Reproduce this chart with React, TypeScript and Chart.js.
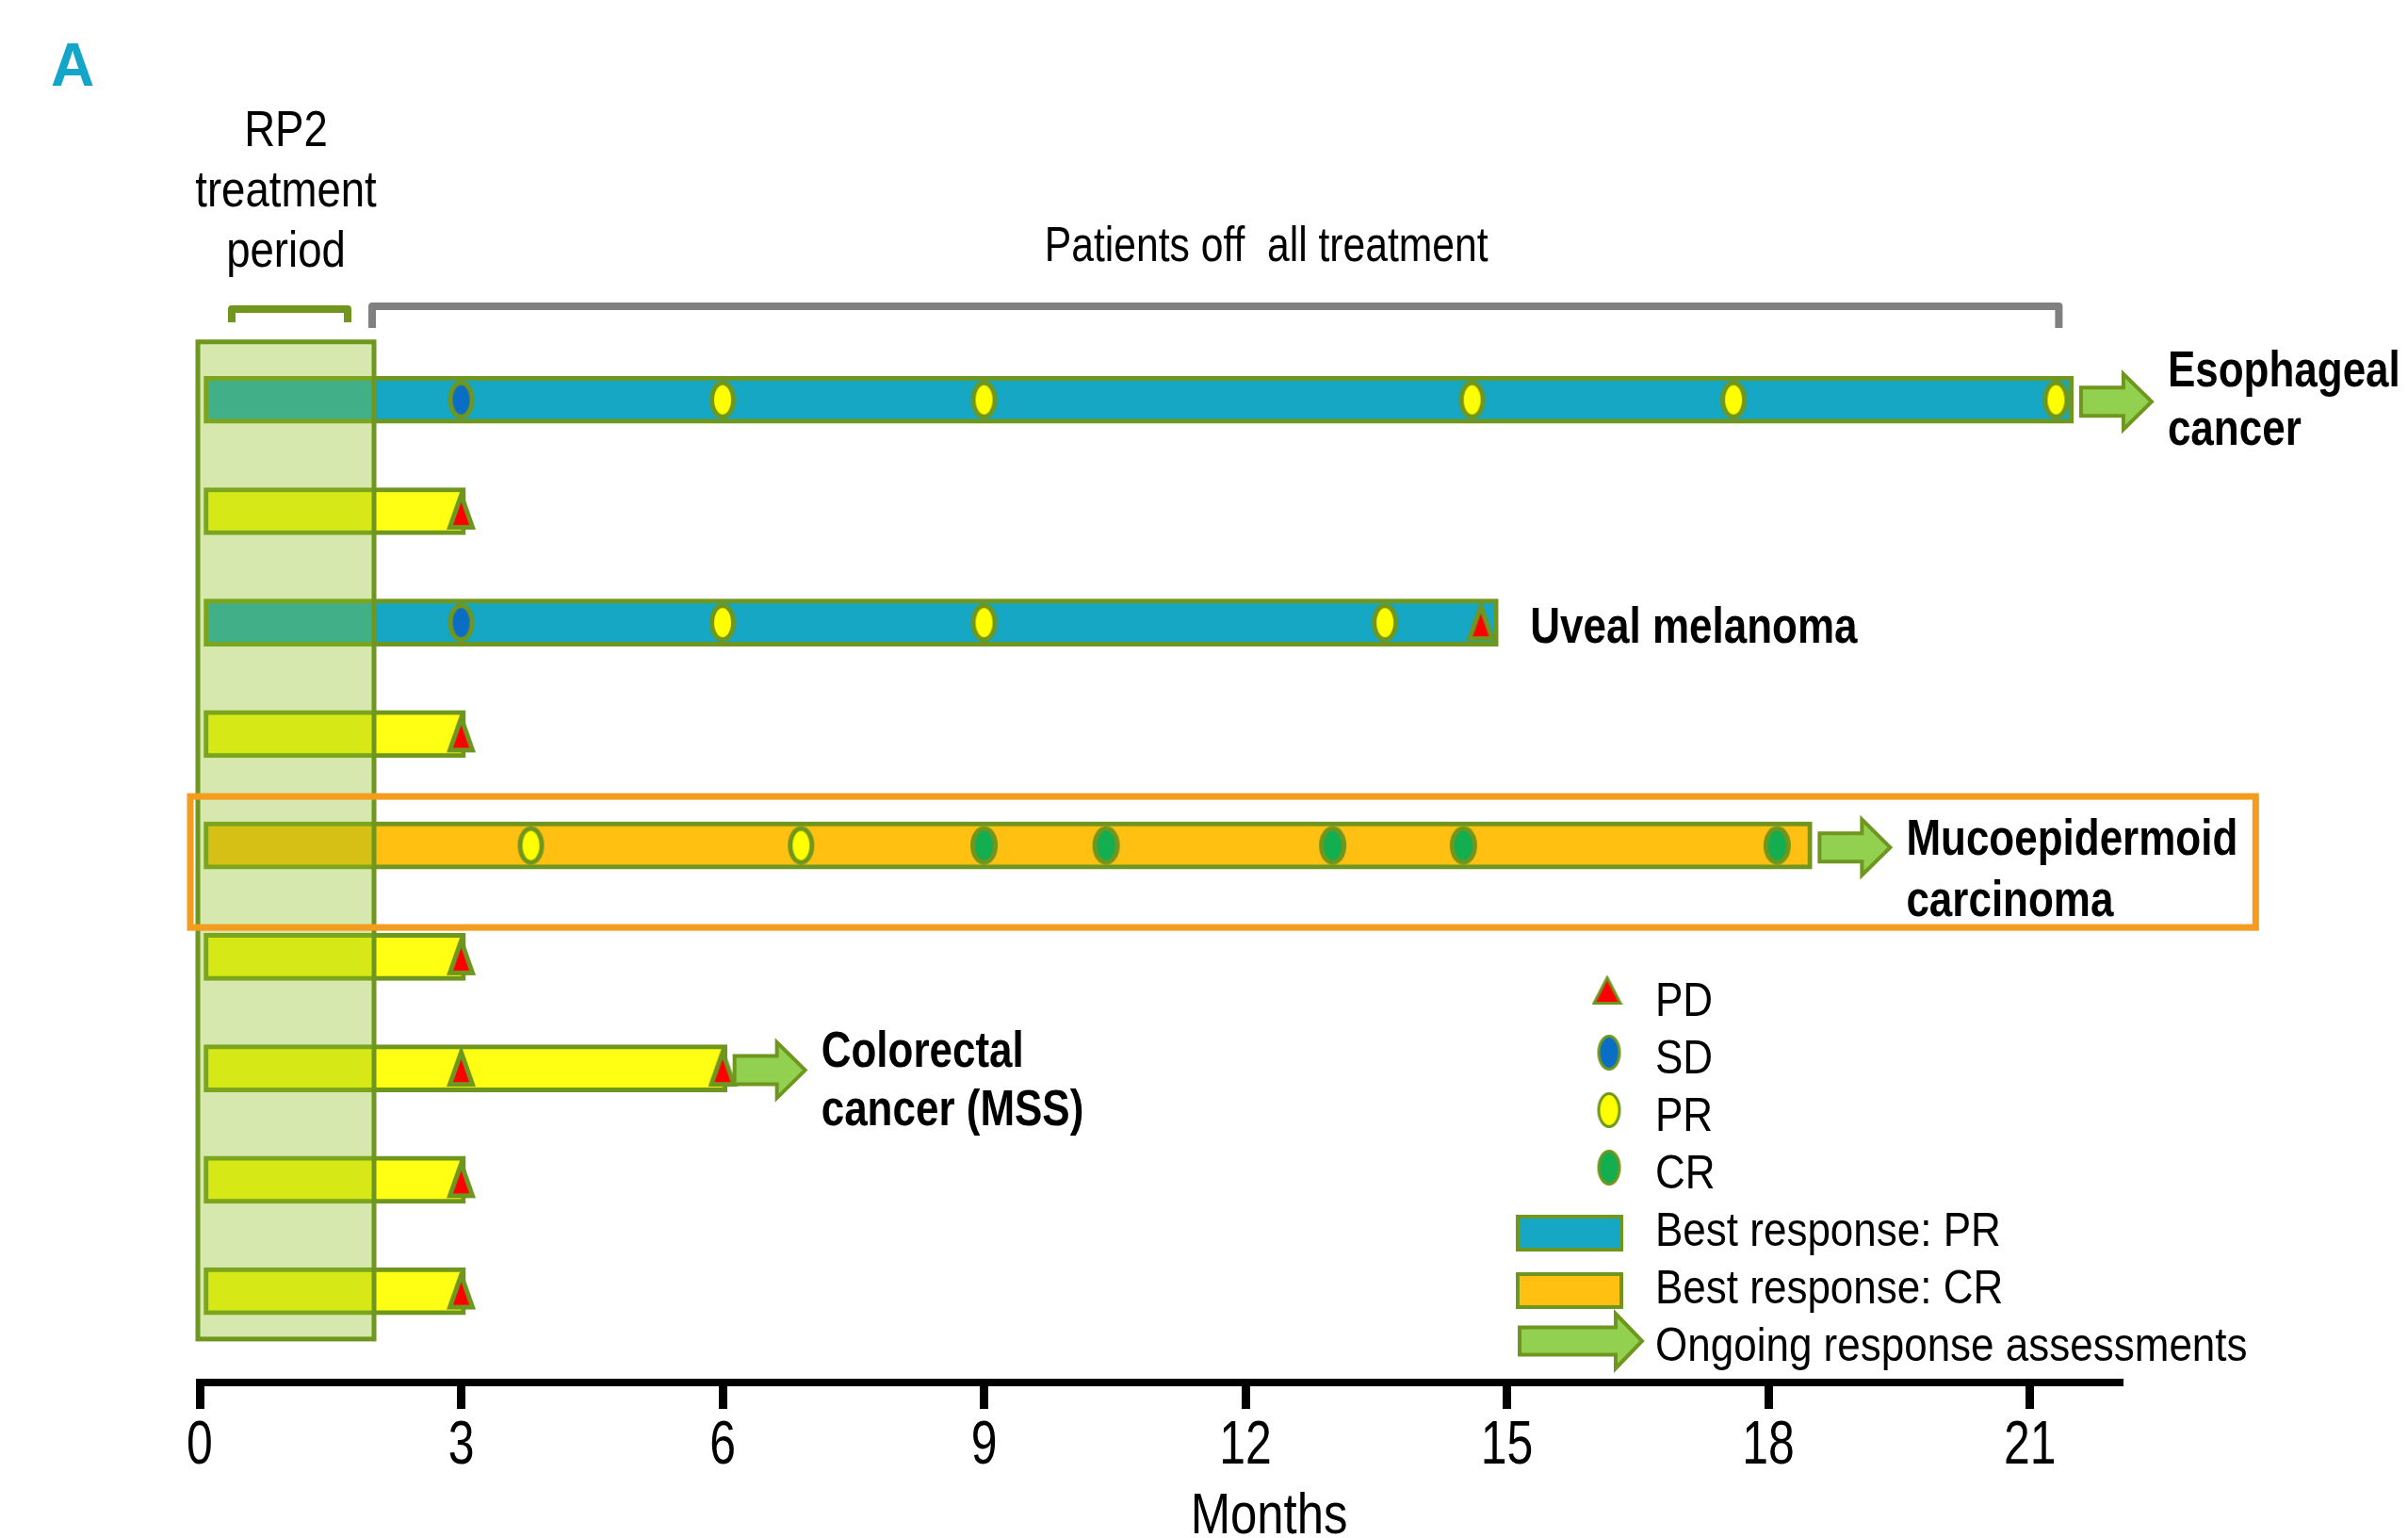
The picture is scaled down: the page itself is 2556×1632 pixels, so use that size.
import React, { useEffect, useRef } from 'react';
import { Chart, registerables } from 'chart.js';

Chart.register(...registerables);

// ---------------- data ----------------
const patientRows = [1, 2, 3, 4, 5, 6, 7, 8, 9];
const bestResponse = ['PR', 'PD', 'PR', 'PD', 'CR', 'PD', 'PD', 'PD', 'PD'];
const monthsOnStudy = [21.5, 3.05, 14.9, 3.05, 18.5, 3.05, 6.05, 3.05, 3.05];
const ongoingAssessment = [true, false, false, false, true, false, true, false, false];
const rp2PeriodEnd = 2.0;
const offTreatmentEnd = 21.3;

const sdAssessments = [
  { y: 1, x: 3 },
  { y: 3, x: 3 },
];
const prAssessments = [
  { y: 1, x: 6 }, { y: 1, x: 9 }, { y: 1, x: 14.6 }, { y: 1, x: 17.6 }, { y: 1, x: 21.3 },
  { y: 3, x: 6 }, { y: 3, x: 9 }, { y: 3, x: 13.6 },
  { y: 5, x: 3.8 }, { y: 5, x: 6.9 },
];
const crAssessments = [
  { y: 5, x: 9 }, { y: 5, x: 10.4 }, { y: 5, x: 13.0 }, { y: 5, x: 14.5 }, { y: 5, x: 18.1 },
];
const pdAssessments = [
  { y: 2, x: 3 }, { y: 3, x: 14.7 }, { y: 4, x: 3 }, { y: 6, x: 3 },
  { y: 7, x: 3 }, { y: 7, x: 6 }, { y: 8, x: 3 }, { y: 9, x: 3 },
];
const monthTicks = [0, 3, 6, 9, 12, 15, 18, 21];
const tumourRows = [1, 3, 5, 7];
const tumourLines = [
  ['Esophageal', 'cancer'],
  ['Uveal melanoma'],
  ['Mucoepidermoid', 'carcinoma'],
  ['Colorectal', 'cancer (MSS)'],
];
const legendLabels = ['PD', 'SD', 'PR', 'CR', 'Best response: PR', 'Best response: CR', 'Ongoing response assessments'];

// ---------------- styles / layout ----------------
const W = 2556;
const H = 1632;
const OLIVE = '#6F961E';
const FILL: Record<string, string> = { PR: '#16A7C4', CR: '#FFC012', PD: '#FFFF14' };
const OVERLAY = 'rgba(140,191,29,0.36)';
const FONT = '"Liberation Sans", Arial, Helvetica, sans-serif';
const LABEL_DY = [-14, 21, 10, -2];
const LABEL_LH = [62, 62, 65, 62];
const ARROW_GAP = 8;
const ARROW_LEN = 75;
const LABEL_GAP = 17;

function drawText(ctx: CanvasRenderingContext2D, s: string, x: number, y: number, size: number,
  o: { bold?: boolean; sx?: number; align?: CanvasTextAlign; color?: string } = {}) {
  const { bold = false, sx = 1, align = 'left', color = '#000' } = o;
  ctx.save();
  ctx.font = `${bold ? 'bold ' : ''}${size}px ${FONT}`;
  ctx.fillStyle = color;
  ctx.textAlign = align;
  ctx.textBaseline = 'alphabetic';
  ctx.translate(x, y);
  ctx.scale(sx, 1);
  ctx.fillText(s, 0, 0);
  const w = ctx.measureText(s).width * sx;
  ctx.restore();
  return w;
}

function drawArrow(ctx: CanvasRenderingContext2D, x0: number, yc: number, len: number, shaftH: number, headH: number, headLen: number, lw: number) {
  const xh = x0 + len - headLen;
  ctx.save();
  ctx.beginPath();
  ctx.moveTo(x0, yc - shaftH / 2);
  ctx.lineTo(xh, yc - shaftH / 2);
  ctx.lineTo(xh, yc - headH / 2);
  ctx.lineTo(x0 + len, yc);
  ctx.lineTo(xh, yc + headH / 2);
  ctx.lineTo(xh, yc + shaftH / 2);
  ctx.lineTo(x0, yc + shaftH / 2);
  ctx.closePath();
  ctx.fillStyle = '#92D050';
  ctx.fill();
  ctx.lineWidth = lw;
  ctx.strokeStyle = OLIVE;
  ctx.lineJoin = 'miter';
  ctx.stroke();
  ctx.restore();
}

function drawBracket(ctx: CanvasRenderingContext2D, x1: number, x2: number, yTop: number, yLeg: number, color: string, lw: number) {
  ctx.save();
  ctx.strokeStyle = color;
  ctx.lineWidth = lw;
  ctx.lineJoin = 'round';
  ctx.beginPath();
  ctx.moveTo(x1, yLeg);
  ctx.lineTo(x1, yTop);
  ctx.lineTo(x2, yTop);
  ctx.lineTo(x2, yLeg);
  ctx.stroke();
  ctx.restore();
}

function ellipseImg(fill: string, rx: number, ry: number, lw: number) {
  const c = document.createElement('canvas');
  c.width = Math.ceil(2 * rx + lw + 2);
  c.height = Math.ceil(2 * ry + lw + 2);
  const g = c.getContext('2d')!;
  g.beginPath();
  g.ellipse(c.width / 2, c.height / 2, rx, ry, 0, 0, Math.PI * 2);
  g.fillStyle = fill;
  g.fill();
  g.lineWidth = lw;
  g.strokeStyle = OLIVE;
  g.stroke();
  return c;
}

function triangleImg(w: number, h: number, lw: number) {
  const c = document.createElement('canvas');
  c.width = w + lw + 2;
  c.height = h + lw + 2;
  const g = c.getContext('2d')!;
  const ox = (c.width - w) / 2;
  const oy = (c.height - h) / 2;
  g.beginPath();
  g.moveTo(ox + w / 2, oy);
  g.lineTo(ox + w, oy + h);
  g.lineTo(ox, oy + h);
  g.closePath();
  g.fillStyle = '#FF0000';
  g.fill();
  g.lineWidth = lw;
  g.strokeStyle = OLIVE;
  g.lineJoin = 'miter';
  g.stroke();
  return c;
}

export default function App() {
  const ref = useRef<HTMLCanvasElement | null>(null);

  useEffect(() => {
    document.body.style.margin = '0';
    document.body.style.overflow = 'hidden';
    const canvas = ref.current;
    if (!canvas) return;

    const sdImg = ellipseImg('#0A6EC4', 11.5, 18, 5);
    const prImg = ellipseImg('#FFFF00', 11.5, 18, 5);
    const crImg = ellipseImg('#12AE50', 12, 18, 5);
    const pdImg = triangleImg(24, 34, 5);
    const legSd = ellipseImg('#0A6EC4', 11, 17.5, 3);
    const legPr = ellipseImg('#FFFF00', 11, 17.5, 3);
    const legCr = ellipseImg('#12AE50', 11, 17.5, 3);
    const legPd = triangleImg(28, 27, 3);

    const annot = {
      id: 'annot',
      afterDatasetDraw(chart: any, args: any) {
        if (args.index !== 0) return;
        const { ctx } = chart;
        const x = chart.scales.x;
        const y = chart.scales.y;
        const l = x.getPixelForValue(0) - 2;
        const r = x.getPixelForValue(rp2PeriodEnd);
        const t = y.getPixelForValue(0.48);
        const b = y.getPixelForValue(9.43);
        ctx.save();
        ctx.fillStyle = OVERLAY;
        ctx.fillRect(l, t, r - l, b - t);
        ctx.lineWidth = 5;
        ctx.strokeStyle = OLIVE;
        ctx.strokeRect(l, t, r - l, b - t);
        ctx.restore();
      },
      afterDatasetsDraw(chart: any) {
        const { ctx } = chart;
        const x = chart.scales.x;
        const y = chart.scales.y;

        // ongoing arrows
        patientRows.forEach((row, i) => {
          if (!ongoingAssessment[i]) return;
          const xe = x.getPixelForValue(monthsOnStudy[i]);
          drawArrow(ctx, xe + ARROW_GAP, y.getPixelForValue(row) + 2, ARROW_LEN, 30, 59, 30, 4);
        });

        // tumour labels
        let mucoEnd = 0;
        tumourRows.forEach((row, k) => {
          const i = row - 1;
          const xe = x.getPixelForValue(monthsOnStudy[i]);
          const lx = ongoingAssessment[i] ? xe + ARROW_GAP + ARROW_LEN + LABEL_GAP : xe + 34;
          const yc = y.getPixelForValue(row);
          tumourLines[k].forEach((s, j) => {
            const w = drawText(ctx, s, lx, yc + LABEL_DY[k] + j * LABEL_LH[k], 53, { bold: true, sx: 0.83 });
            if (row === 5) mucoEnd = Math.max(mucoEnd, lx + w);
          });
        });

        // orange highlight box around row 5
        const y5 = y.getPixelForValue(5);
        const ox = x.getPixelForValue(0) - 10;
        ctx.save();
        ctx.strokeStyle = '#F39C1E';
        ctx.lineWidth = 7;
        ctx.strokeRect(ox, y5 - 52, mucoEnd + 19 - ox, 139);
        ctx.restore();
      },
      afterDraw(chart: any) {
        const { ctx } = chart;
        const x = chart.scales.x;

        // panel letter
        drawText(ctx, 'A', 54, 91, 64, { bold: true, color: '#13A6C9' });

        // RP2 text and brackets
        const bl = x.getPixelForValue(0) - 2;
        const br = x.getPixelForValue(rp2PeriodEnd);
        const bc = (bl + br) / 2;
        ['RP2', 'treatment', 'period'].forEach((s, j) => {
          drawText(ctx, s, bc, 155 + j * 64, 53, { sx: 0.86, align: 'center' });
        });
        drawBracket(ctx, bl + 36, br - 28, 328, 342, '#71961E', 8);
        const gx1 = br - 2;
        const gx2 = x.getPixelForValue(offTreatmentEnd) + 3;
        drawBracket(ctx, gx1, gx2, 325, 348, '#808080', 8);
        drawText(ctx, 'Patients off  all treatment', (gx1 + gx2) / 2 + 54, 277, 52, { sx: 0.82, align: 'center' });

        // axis tick labels + title
        monthTicks.forEach((v) => {
          drawText(ctx, String(v), x.getPixelForValue(v), 1553, 64, { sx: 0.78, align: 'center' });
        });
        drawText(ctx, 'Months', 1347, 1627, 62, { sx: 0.82, align: 'center' });

        // legend
        const lx = 1757;
        legendLabels.forEach((s, i) => {
          const by = 1078 + i * 61;
          drawText(ctx, s, lx, by, 50, { sx: 0.88 });
          if (i === 0) ctx.drawImage(legPd, 1706 - legPd.width / 2, by - 27 - legPd.height / 2);
          if (i >= 1 && i <= 3) {
            const im = [legSd, legPr, legCr][i - 1];
            ctx.drawImage(im, 1708 - im.width / 2, by - 22 - im.height / 2);
          }
          if (i === 4 || i === 5) {
            ctx.save();
            ctx.fillStyle = i === 4 ? FILL.PR : FILL.CR;
            ctx.fillRect(1611, by - 31, 110, 35);
            ctx.lineWidth = 4;
            ctx.strokeStyle = OLIVE;
            ctx.strokeRect(1611, by - 31, 110, 35);
            ctx.restore();
          }
          if (i === 6) drawArrow(ctx, 1613, by - 21, 130, 29, 58, 28, 4);
        });
      },
    };

    const chart = new Chart(canvas, {
      type: 'scatter',
      data: {
        datasets: [
          {
            type: 'bar',
            indexAxis: 'y',
            order: 10,
            data: patientRows.map((row, i) => ({ y: row, x: [0, monthsOnStudy[i]] })),
            backgroundColor: bestResponse.map((b) => FILL[b]),
            borderColor: OLIVE,
            borderWidth: 5,
            borderSkipped: false,
            barThickness: 50,
            clip: false,
          } as any,
          { type: 'scatter', order: 1, data: sdAssessments, pointStyle: sdImg, pointRadius: 12, clip: false } as any,
          { type: 'scatter', order: 1, data: prAssessments, pointStyle: prImg, pointRadius: 12, clip: false } as any,
          { type: 'scatter', order: 1, data: crAssessments, pointStyle: crImg, pointRadius: 12, clip: false } as any,
          { type: 'scatter', order: 0, data: pdAssessments, pointStyle: pdImg, pointRadius: 12, clip: false } as any,
        ],
      },
      options: {
        responsive: false,
        animation: false,
        devicePixelRatio: 1,
        events: [],
        layout: { padding: { left: 212, right: 307, top: 306, bottom: 0 } },
        plugins: { legend: { display: false }, tooltip: { enabled: false } },
        scales: {
          x: {
            type: 'linear',
            position: 'bottom',
            offset: false,
            min: 0,
            max: 22.02,
            afterBuildTicks: (s: any) => { s.ticks = monthTicks.map((v) => ({ value: v })); },
            afterFit: (s: any) => { s.height = 165; },
            ticks: { display: false },
            grid: { display: true, offset: false, drawOnChartArea: false, drawTicks: true, tickLength: 28, lineWidth: 9, color: '#000' },
            border: { display: true, width: 8, color: '#000' },
          },
          y: {
            type: 'linear', offset: false, min: 0, max: 9.82, reverse: true, display: false,
            grid: { offset: false },
          },
        },
      } as any,
      plugins: [annot as any],
    });

    return () => chart.destroy();
  }, []);

  return (
    <div style={{ width: W, height: H, background: '#fff' }}>
      <canvas ref={ref} width={W} height={H} style={{ display: 'block', width: W, height: H }} />
    </div>
  );
}
